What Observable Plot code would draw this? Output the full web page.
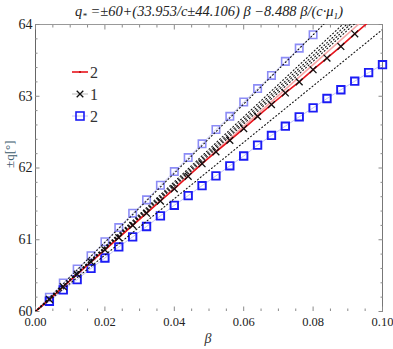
<!DOCTYPE html>
<html><head><meta charset="utf-8">
<script src="https://cdn.jsdelivr.net/npm/d3@7"></script>
<script src="https://cdn.jsdelivr.net/npm/@observablehq/plot@0.6"></script>
<style>
body{margin:0;background:#fff}
svg text, svg { font-family: "Liberation Serif", "Times New Roman", "DejaVu Serif", serif !important; }
</style>
</head><body><div id="chart"></div>
<script>
// ---- data ----
const xDomain = [0, 0.1];
const yDomain = [60, 64];
const xMajorTicks = [0, 0.02, 0.04, 0.06, 0.08, 0.1];
const xMinorTicks = [0.005,0.01,0.015,0.025,0.03,0.035,0.045,0.05,0.055,0.065,0.07,0.075,0.085,0.09,0.095];
const yMajorTicks = [60, 61, 62, 63, 64];
const yMinorTicks = [60.2,60.4,60.6,60.8,61.2,61.4,61.6,61.8,62.2,62.4,62.6,62.8,63.2,63.4,63.6,63.8];
const origin = {beta: 0, q: 60};

// series "1" (crosses)
const crossBeta = [0.004,0.008,0.012,0.016,0.02,0.024,0.028,0.032,0.036,0.04,0.044,0.048,0.052,0.056,0.06,0.064,0.068,0.072,0.076,0.08,0.084,0.088,0.092];
const crossQ = [60.17,60.345,60.52,60.69,60.86,61.03,61.2,61.37,61.54,61.71,61.885,62.06,62.226,62.385,62.55,62.72,62.885,63.046,63.2,63.37,63.532,63.694,63.87];
// series "2" light squares
const lightBeta = [0.004,0.008,0.012,0.016,0.02,0.024,0.028,0.032,0.036,0.04,0.044,0.048,0.052,0.056,0.06,0.064,0.068,0.072,0.076,0.08];
const lightQ = [60.199,60.398,60.593,60.778,60.972,61.17,61.37,61.556,61.76,61.95,62.145,62.337,62.537,62.72,62.92,63.107,63.29,63.486,63.671,63.857];
// series "2" dark squares
const darkBeta = [0.004,0.008,0.012,0.016,0.02,0.024,0.028,0.032,0.036,0.04,0.044,0.048,0.052,0.056,0.06,0.064,0.068,0.072,0.076,0.08,0.084,0.088,0.092,0.096,0.1];
const darkQ = [60.143,60.301,60.444,60.6,60.745,60.9,61.04,61.185,61.333,61.48,61.615,61.754,61.89,62.03,62.167,62.319,62.454,62.583,62.713,62.838,62.968,63.09,63.21,63.33,63.44];
// red line end value and the straight reference lines (q at beta = 0.1)
const redEndQ = 64.2;
const pinkEndQ = 64.3;
const dottedEndQ = [64.82, 64.52, 64.46, 64.41, 64.36, 63.93];

const legendLabels = ["2", "1", "2"];

// ---- build tables ----
const zip = (b, q) => b.map((v, i) => ({beta: v, q: q[i]}));
const crosses = zip(crossBeta, crossQ);
const light = zip(lightBeta, lightQ);
const dark = zip(darkBeta, darkQ);
const redLine = [origin, ...crosses, {beta: xDomain[1], q: redEndQ}];
const pinkLine = [origin, {beta: xDomain[1], q: pinkEndQ}];
const dotted = dottedEndQ.flatMap((e, k) => [{k, beta: 0, q: origin.q}, {k, beta: xDomain[1], q: e}]);

const axisCol = "#8a8a8a";
const fmtX = d => d.toFixed(2);
const fmtY = d => String(d);
const FONT = "Liberation Serif, Times New Roman, DejaVu Serif, serif";

const chart = Plot.plot({
  width: 393, height: 349,
  marginLeft: 35, marginRight: 11, marginTop: 24, marginBottom: 38,
  style: {fontFamily: FONT, background: "#fff", color: "#222"},
  x: {domain: xDomain},
  y: {domain: yDomain},
  marks: [
    // frame sides
    Plot.ruleX([xDomain[0]], {stroke: "#666"}),
    Plot.ruleX([xDomain[1]], {stroke: "#777"}),
    Plot.ruleY([yDomain[1]], {stroke: "#999"}),
    // ticks (inward)
    Plot.axisX(xMinorTicks, {anchor: "bottom", tickSize: -2.5, fill: "none", label: null, stroke: axisCol}),
    Plot.axisX(xMajorTicks, {anchor: "bottom", tickSize: -4.5, fill: "none", label: null, stroke: axisCol}),
    Plot.axisX(xMinorTicks, {anchor: "top", tickSize: -2.5, fill: "none", label: null, stroke: axisCol}),
    Plot.axisX(xMajorTicks, {anchor: "top", tickSize: -4.5, fill: "none", label: null, stroke: axisCol}),
    Plot.axisY(yMinorTicks, {anchor: "left", tickSize: -2.5, fill: "none", label: null, stroke: axisCol}),
    Plot.axisY(yMajorTicks, {anchor: "left", tickSize: -4.5, fill: "none", label: null, stroke: axisCol}),
    Plot.axisY(yMinorTicks, {anchor: "right", tickSize: -2.5, fill: "none", label: null, stroke: axisCol}),
    Plot.axisY(yMajorTicks, {anchor: "right", tickSize: -4.5, fill: "none", label: null, stroke: axisCol}),
    // tick labels
    Plot.axisX(xMajorTicks, {anchor: "bottom", tickSize: 0, tickPadding: 6, tickFormat: fmtX, fontSize: 12.5, label: null, fill: "#222"}),
    Plot.axisY(yMajorTicks, {anchor: "left", tickSize: 0, tickPadding: 3, tickFormat: fmtY, fontSize: 14, label: null, fill: "#222"}),
    // axis labels
    Plot.text(["β"], {frameAnchor: "bottom", dy: 31, dx: -1, fontStyle: "italic", fontSize: 14, fill: "#333"}),
    Plot.text(["±q[°]"], {frameAnchor: "left", rotate: -90, dx: -26, fontSize: 13, fill: "#3c5a6c"}),
    // connecting lines
    Plot.line([origin, ...light], {x: "beta", y: "q", stroke: "#c4c4f8", strokeWidth: 1, clip: true}),
    Plot.line([origin, ...dark], {x: "beta", y: "q", stroke: "#c4c4f8", strokeWidth: 1, clip: true}),
    Plot.line([origin, ...crosses], {x: "beta", y: "q", stroke: "#bbbbbb", strokeWidth: 1, clip: true}),
    // squares
    Plot.dot(light, {x: "beta", y: "q", symbol: "square", r: 4.2, stroke: "#8c8cf6", strokeWidth: 1.6, fill: "none"}),
    Plot.dot(dark, {x: "beta", y: "q", symbol: "square", r: 4.2, stroke: "#1c1cf5", strokeWidth: 1.9, fill: "none"}),
    // pink and red lines
    Plot.line(pinkLine, {x: "beta", y: "q", stroke: "#f5a8a8", strokeWidth: 1.6, clip: true}),
    Plot.line(redLine, {x: "beta", y: "q", stroke: "#e8141c", strokeWidth: 1.6, clip: true}),
    // dotted lines
    Plot.line(dotted, {x: "beta", y: "q", z: "k", stroke: "#111", strokeWidth: 1.1, strokeDasharray: "1,2.6", clip: true}),
    // crosses
    Plot.dot(crosses, {x: "beta", y: "q", symbol: "times", r: 3.2, stroke: "#111", strokeWidth: 1.3})
  ]
});
document.getElementById("chart").append(chart);

// ---- title (math text with subscripts) ----
const svg = d3.select(chart);
const title = svg.append("text")
  .attr("x", 75).attr("y", 16)
  .attr("text-anchor", "start")
  .attr("textLength", 268).attr("lengthAdjust", "spacingAndGlyphs")
  .style("font-family", FONT)
  .attr("font-style", "italic").attr("font-size", 14).attr("fill", "#222");
title.append("tspan").text("q");
title.append("tspan").attr("font-size", 9).attr("dy", 3).text("*");
title.append("tspan").attr("dy", -3).text(" =±60+(33.953/c±44.106) β −8.488 β/(c·μ");
title.append("tspan").attr("font-size", 9).attr("dy", 3).text("1");
title.append("tspan").attr("dy", -3).text(")");

// ---- legend ----
const lg = svg.append("g").style("font-family", FONT).attr("font-size", 16).attr("fill", "#333");
const rows = [72, 94, 116];
// row 1: red line
lg.append("line").attr("x1", 72).attr("x2", 88).attr("y1", rows[0]).attr("y2", rows[0]).attr("stroke", "#e8141c").attr("stroke-width", 1.6);
lg.append("circle").attr("cx", 80).attr("cy", rows[0]).attr("r", 1).attr("fill", "#b00");
// row 2: gray line + cross
lg.append("line").attr("x1", 72).attr("x2", 88).attr("y1", rows[1]).attr("y2", rows[1]).attr("stroke", "#bbb");
lg.append("path").attr("transform", `translate(80,${rows[1]})`).attr("d", d3.symbol(d3.symbolTimes, 30)()).attr("stroke", "#111").attr("stroke-width", 1.3).attr("fill", "none");
// row 3: light blue line + square
lg.append("line").attr("x1", 72).attr("x2", 88).attr("y1", rows[2]).attr("y2", rows[2]).attr("stroke", "#c4c4f8");
lg.append("rect").attr("x", 76).attr("y", rows[2] - 4).attr("width", 8).attr("height", 8).attr("stroke", "#1c1cf5").attr("stroke-width", 1.6).attr("fill", "none");
legendLabels.forEach((t, i) => lg.append("text").attr("x", 94).attr("y", rows[i]).attr("dy", "0.35em").text(t));
</script>
</body></html>
